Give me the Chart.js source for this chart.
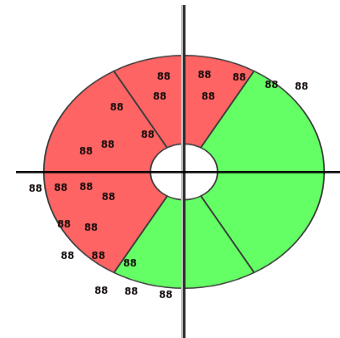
<!DOCTYPE html>
<html>
<head>
<meta charset="utf-8">
<script src="https://cdn.jsdelivr.net/npm/chart.js@4/dist/chart.umd.min.js"></script>
<style>
  html, body { margin: 0; padding: 0; background: #fff; overflow: hidden; }
  #wrap { width: 340px; height: 338px; overflow: hidden; }
  #chart { transform: scaleY(0.83); transform-origin: 0 0; filter: blur(0.5px); }
</style>
</head>
<body>
<div id="wrap"><canvas id="chart" width="340" height="407"></canvas></div>
<script>
// segments, clockwise from the top
const categories = ['A', 'B', 'C', 'D', 'E', 'F'];
const values = [1, 4, 1, 1, 4, 1];
const colors = ['#ff6464', '#64ff64', '#64ff64', '#64ff64', '#ff6464', '#ff6464'];

// small dark labels scattered over the ring: [angle from top in deg, radius / outer radius]
const labelText = '88';
const labelSpots = [
  [10, 0.84], [15, 0.67], [26, 0.9], [350, 0.83], [345, 0.67],
  [319, 0.73], [321, 0.41], [293, 0.59], [284, 0.72], [261, 0.89],
  [259, 0.71], [248, 0.58], [242, 0.97], [234, 0.82], [220, 0.95],
  [262, 1.07], [229, 1.1], [210, 1.18], [200, 1.1], [187, 1.07],
  [40, 0.97], [49, 1.11], [206, 0.88]
];

const crossLines = {
  id: 'crossLines',
  afterDatasetsDraw(chart) {
    const arc = chart.getDatasetMeta(0).data[0];
    const ctx = chart.ctx;
    const cx = arc.x, cy = arc.y, r = arc.outerRadius;
    ctx.save();
    // labels
    ctx.font = 'bold 13px "DejaVu Sans"';
    ctx.textAlign = 'center';
    ctx.textBaseline = 'middle';
    ctx.fillStyle = '#140c0c';
    labelSpots.forEach(([a, f]) => {
      const t = (a - 90) * Math.PI / 180;
      ctx.save();
      ctx.translate(cx + Math.cos(t) * r * f, cy + Math.sin(t) * r * f);
      ctx.scale(0.75, 1);
      ctx.fillText(labelText, 0, 0);
      ctx.restore();
    });
    // vertical axis line (light + dark)
    ctx.fillStyle = '#c0c0c0';
    ctx.fillRect(cx - 3, 6, 2, chart.height);
    ctx.fillStyle = '#2a2a2a';
    ctx.fillRect(cx - 1, 6, 2.5, chart.height);
    // horizontal axis line
    ctx.fillStyle = '#000';
    ctx.fillRect(16, cy - 1, chart.width, 2.6);
    ctx.restore();
  }
};

new Chart(document.getElementById('chart'), {
  type: 'doughnut',
  data: {
    labels: categories,
    datasets: [{
      data: values,
      backgroundColor: colors,
      borderColor: '#3c3c3c',
      borderWidth: 1.6
    }]
  },
  options: {
    responsive: false,
    animation: false,
    devicePixelRatio: 1,
    cutout: '24%',
    layout: { padding: { left: 43, right: 15, top: 66, bottom: 59 } },
    plugins: {
      legend: { display: false },
      tooltip: { enabled: false }
    }
  },
  plugins: [crossLines]
});
</script>
</body>
</html>
